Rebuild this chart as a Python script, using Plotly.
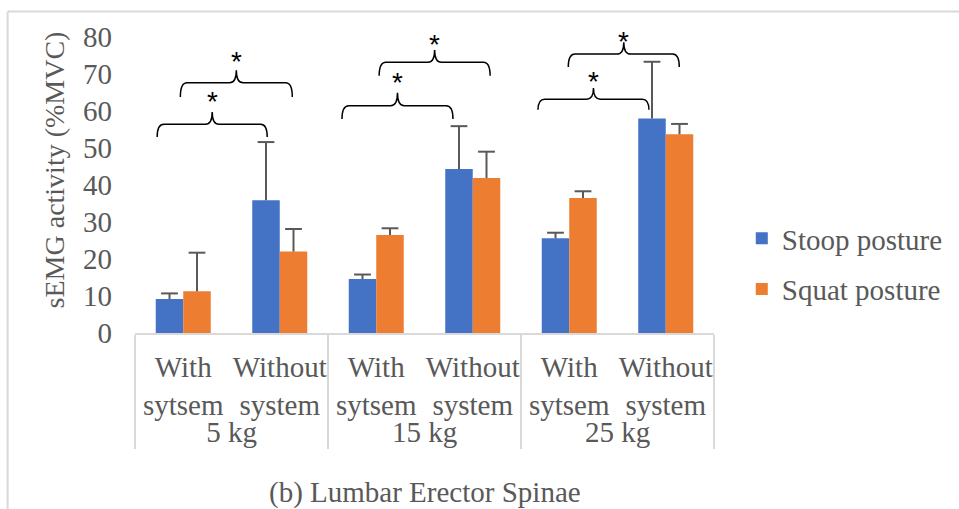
import plotly.graph_objects as go

# ---- data ----
loads = ["5 kg", "5 kg", "15 kg", "15 kg", "25 kg", "25 kg"]
conditions = ["With<br>sytsem", "Without<br>system"] * 3
stoop = [9.2, 35.9, 14.6, 44.3, 25.6, 58.0]
stoop_err = [1.5, 15.7, 1.2, 11.6, 1.5, 15.3]
squat = [11.3, 22.0, 26.5, 41.9, 36.5, 53.7]
squat_err = [10.4, 6.1, 1.8, 7.1, 1.8, 2.8]
y_ticks = [0, 10, 20, 30, 40, 50, 60, 70, 80]
x_title = "(b) Lumbar Erector Spinae"

# significance brackets: (start index, end index, horizontal level, end level, tip level, star level)
br_start = [-0.27, -0.03, 1.645, 2.03, 3.676, 3.99]
br_end = [0.87, 1.13, 2.795, 3.18, 4.826, 5.14]
br_level = [56.4, 67.6, 61.4, 73.2, 63.2, 75.4]
br_foot = [53.0, 63.8, 57.8, 69.5, 60.3, 71.9]
br_tip = [59.7, 71.0, 64.9, 76.5, 66.2, 78.6]
star_y = [64.3, 75.1, 69.2, 79.7, 69.7, 80.3]

FONT = "Liberation Serif"
FS = 29
GREY = "#595959"
LIGHT = "#d9d9d9"
GAP = 0.43

fig = go.Figure()
series = [("Stoop posture", stoop, stoop_err, "#4472C4", "a"),
          ("Squat posture", squat, squat_err, "#ED7D31", "b")]
for name, vals, errs, color, grp in series:
    fig.add_trace(go.Bar(
        x=[loads, conditions], y=vals, name=name,
        marker=dict(color=color, line=dict(width=0)),
        offsetgroup=grp, legendgroup=grp,
    ))
for name, vals, errs, color, grp in series:
    tops = [v + e for v, e in zip(vals, errs)]
    fig.add_trace(go.Scatter(
        x=[loads, conditions], y=tops, mode="markers", showlegend=False,
        offsetgroup=grp, legendgroup=grp, hoverinfo="skip",
        marker=dict(symbol="line-ew", size=12, line=dict(color=GREY, width=2), color=GREY),
        error_y=dict(type="data", array=[0] * 6, arrayminus=errs, symmetric=False,
                     color=GREY, thickness=2, width=0),
    ))

shapes = []
annotations = []
dx = 0.07
for xa, xb, yh, yf, yt, ys in zip(br_start, br_end, br_level, br_foot, br_tip, star_y):
    xm = (xa + xb) / 2
    path = (f"M {xa},{yf} Q {xa},{yh} {xa+dx},{yh} L {xm-dx},{yh} "
            f"Q {xm},{yh} {xm},{yt} Q {xm},{yh} {xm+dx},{yh} "
            f"L {xb-dx},{yh} Q {xb},{yh} {xb},{yf}")
    shapes.append(dict(type="path", xref="x", yref="y", path=path,
                       line=dict(color="#000000", width=1.5)))
    annotations.append(dict(x=xm, y=ys, xref="x", yref="y", text="*", showarrow=False,
                            font=dict(family="Liberation Sans", size=28, color="#000000"),
                            yanchor="middle", yshift=-6))

# x axis title (category axis title below the group labels)
annotations.append(dict(x=0.5, y=-0.49, xref="paper", yref="paper", text=x_title,
                        showarrow=False, xanchor="center", yanchor="middle",
                        font=dict(family=FONT, size=FS, color=GREY)))

# chart area border (top and left)
shapes.append(dict(type="line", xref="paper", yref="paper", x0=-0.22, x1=1.45, y0=0.986, y1=0.986,
                   line=dict(color=LIGHT, width=2)))
shapes.append(dict(type="line", xref="paper", yref="paper", x0=-0.22, x1=-0.22, y0=0.986, y1=-0.6,
                   line=dict(color=LIGHT, width=2)))

fig.update_layout(
    width=959, height=509,
    margin=dict(l=135, r=245, t=7, b=176, autoexpand=False),
    paper_bgcolor="white", plot_bgcolor="white",
    barmode="group", bargap=GAP, bargroupgap=0,
    scattermode="group", scattergap=GAP,
    font=dict(family=FONT, size=FS, color=GREY),
    showlegend=True,
    legend=dict(x=1.048, y=0.212, xanchor="left", yanchor="middle",
                font=dict(family=FONT, size=FS, color=GREY), tracegroupgap=10,
                bgcolor="rgba(0,0,0,0)"),
    shapes=shapes,
    annotations=annotations,
)
fig.update_yaxes(range=[0, 88.1], tickvals=y_ticks, showgrid=False, showline=False,
                 zeroline=False, ticklabelstandoff=22, automargin=False,
                 tickfont=dict(family=FONT, size=FS, color=GREY),
                 title=dict(text="sEMG activity (%MVC)", standoff=10,
                            font=dict(family=FONT, size=28, color=GREY)))
fig.update_xaxes(type="multicategory", showline=True, linecolor=LIGHT, linewidth=2,
                 showdividers=True, dividercolor=LIGHT, dividerwidth=2,
                 ticklabelstandoff=7, tickangle=0, automargin=False,
                 tickfont=dict(family=FONT, size=FS, color=GREY), showgrid=False)

fig.write_html("out.html")
